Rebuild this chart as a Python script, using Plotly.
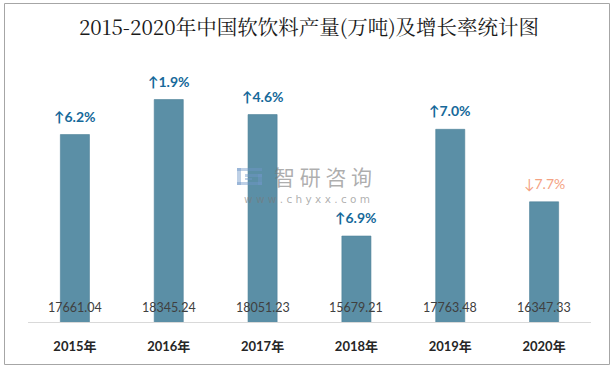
import plotly.graph_objects as go

years = ["2015年", "2016年", "2017年", "2018年", "2019年", "2020年"]
output = [17661.04, 18345.24, 18051.23, 15679.21, 17763.48, 16347.33]
growth = [6.2, 1.9, 4.6, 6.9, 7.0, -7.7]

W, H = 614, 369
L, R, T, B = 28, 23, 66, 47
pw, ph = W - L - R, H - T - B

def px(x):
    return (x - L) / pw

def py(y):
    return (H - B - y) / ph

bar_color = "#5B8FA6"
up_color = "#16699A"
down_color = "#F4A283"

fig = go.Figure()
fig.add_trace(go.Bar(
    x=years, y=output, width=0.31,
    marker=dict(color=bar_color, line=dict(color="#4E8199", width=0.6)),
    hoverinfo="skip",
))

annotations = []
for yr, v, g in zip(years, output, growth):
    annotations.append(dict(
        x=yr, y=14000, xref="x", yref="y", yanchor="bottom", yshift=5,
        text=f"{v:.2f}", showarrow=False,
        font=dict(family="Lato, Noto Sans CJK SC", size=12.5, color="#404040"),
    ))
    up = g >= 0
    annotations.append(dict(
        x=yr, y=v, xref="x", yref="y", yanchor="bottom", yshift=8,
        text=("↑" if up else "↓") + f"{abs(g):.1f}%", showarrow=False,
        font=dict(family="Lato, Noto Sans CJK SC", size=14,
                  color=up_color if up else down_color,
                  weight="bold" if up else "normal"),
    ))

# watermark
annotations.append(dict(
    x=px(323), y=py(176), xref="paper", yref="paper", showarrow=False,
    text="智 研 咨 询", xanchor="center", yanchor="middle",
    font=dict(family="Noto Sans CJK SC", size=21, color="rgba(120,120,120,0.6)"),
))
annotations.append(dict(
    x=px(307), y=py(199), xref="paper", yref="paper", showarrow=False,
    text="w w w . c h y x x . c o m", xanchor="center", yanchor="middle",
    font=dict(family="DejaVu Sans", size=10.5, color="rgba(120,120,120,0.6)"),
))

shapes = [
    dict(type="rect", xref="paper", yref="paper",
         x0=px(4.5), x1=px(609.5), y0=py(364.5), y1=py(3.5),
         line=dict(color="#A6A6A6", width=1), fillcolor="rgba(0,0,0,0)", layer="below"),
]
logo_c = "rgba(110,150,200,0.45)"
for (x0, y0, x1, y1) in [(237, 168, 262, 171), (237, 168, 241, 185), (237, 182, 262, 185),
                         (245, 174, 262, 177), (258, 174, 262, 185), (245, 178, 252, 180)]:
    shapes.append(dict(type="rect", xref="paper", yref="paper",
                       x0=px(x0), x1=px(x1), y0=py(y1), y1=py(y0),
                       line=dict(width=0), fillcolor=logo_c, layer="above"))

fig.update_layout(
    width=W, height=H,
    margin=dict(l=L, r=R, t=T, b=B),
    paper_bgcolor="white", plot_bgcolor="white",
    showlegend=False,
    title=dict(text="2015-2020年中国软饮料产量(万吨)及增长率统计图",
               x=309 / W, xanchor="center", y=1 - 28 / H, yanchor="middle",
               xref="container", yref="container",
               font=dict(family="Noto Serif CJK SC, Liberation Serif, Noto Sans CJK SC",
                         size=20.5, color="#1A1A1A")),
    xaxis=dict(showgrid=False, showline=True, linecolor="#D9D9D9", linewidth=1,
               ticks="", ticklabelstandoff=12,
               tickfont=dict(family="Lato, Noto Sans CJK SC", size=13,
                             color="#262626", weight="bold")),
    yaxis=dict(range=[14000, 19000], visible=False, showgrid=False),
    annotations=annotations,
    shapes=shapes,
    bargap=0.69,
)

fig.write_html("out.html", config={"displayModeBar": False},
               post_script="document.body.style.margin='0';document.body.style.padding='0';")
